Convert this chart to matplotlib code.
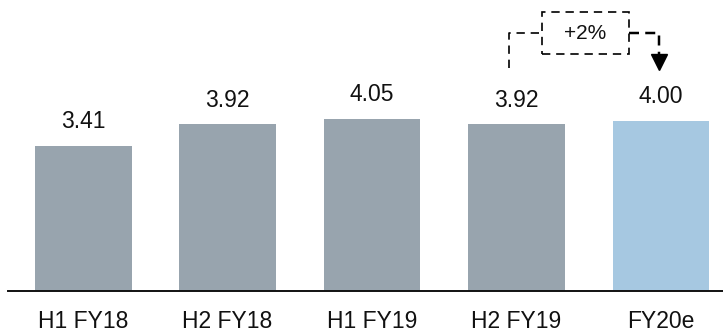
import matplotlib
matplotlib.use("Agg")
import matplotlib.pyplot as plt
from matplotlib.patches import Rectangle

plt.rcParams['font.family'] = ['Liberation Sans', 'DejaVu Sans']

categories = ["H1 FY18", "H2 FY18", "H1 FY19", "H2 FY19", "FY20e"]
values = [3.41, 3.92, 4.05, 3.92, 4.00]
value_labels = ["3.41", "3.92", "4.05", "3.92", "4.00"]
growth_label = "+2%"

gray = "#98A4AE"
blue = "#A6C8E1"
colors = [gray, gray, gray, gray, blue]

fig = plt.figure(figsize=(7.23, 3.32), dpi=100)
ax = fig.add_axes([8/723, 41/332, 1 - 8/723, 1 - 41/332])

x = list(range(len(categories)))
ax.bar(x, values, width=0.67, color=colors, zorder=2)

for xi, v, lab in zip(x, values, value_labels):
    ax.annotate(lab, (xi, v), xytext=(0, 12.7), textcoords='offset points',
                ha='center', va='baseline', fontsize=16.5, color='#111111')

ax.set_xlim(-0.52, 4.43)
ax.set_ylim(0, 6.85)
ax.set_xticks(x)
ax.set_xticklabels(categories, fontsize=16.5, color='#111111')
ax.tick_params(axis='x', length=0, pad=13.5)
ax.set_yticks([])
for s in ['top', 'right', 'left']:
    ax.spines[s].set_visible(False)
ax.spines['bottom'].set_linewidth(1.4)
ax.spines['bottom'].set_color('#111111')

# growth annotation between H2 FY19 and FY20e
ls = (0, (5, 3.5))
lw = 1.2
x_start = 2.948
x_end = 3.99
y_line = 6.07
box_l, box_r = 3.18, 3.776
box_b, box_t = 5.58, 6.56
ax.plot([x_start, x_start, box_l], [5.25, y_line, y_line], color='black',
        lw=lw, linestyle=ls, clip_on=False, zorder=3)
ax.add_patch(Rectangle((box_l, box_b), box_r - box_l, box_t - box_b, fill=False,
                       edgecolor='black', lw=lw, linestyle=ls, clip_on=False, zorder=3))
ax.text((box_l + box_r) / 2, (box_b + box_t) / 2, growth_label, ha='center', va='center',
        fontsize=15, color='#111111')
ax.plot([box_r, x_end, x_end], [y_line, y_line, 5.55], color='black',
        lw=lw * 1.5, linestyle=(0, (4, 2.5)), clip_on=False, zorder=3)
ax.plot([x_end], [5.38], marker='v', markersize=11, color='black',
        linestyle='none', clip_on=False, zorder=3)

fig.savefig("out.png", dpi=100)
